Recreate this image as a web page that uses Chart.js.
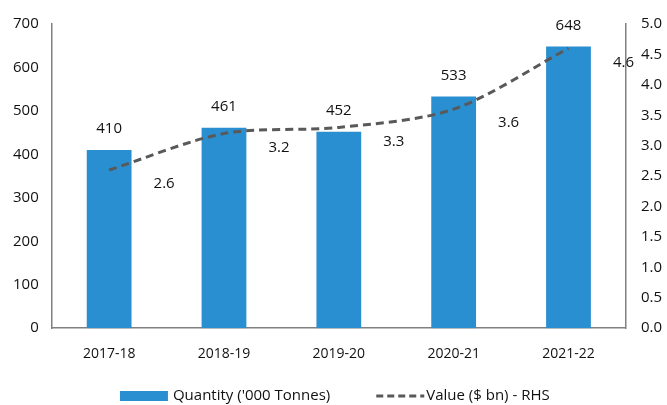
<!DOCTYPE html>
<html>
<head>
<meta charset="utf-8">
<script src="https://cdn.jsdelivr.net/npm/chart.js@4"></script>
<style>
  html, body { margin: 0; padding: 0; background: #fff; }
  #wrap { width: 667px; height: 405px; }
</style>
</head>
<body>
<div id="wrap"><canvas id="c" width="667" height="405"></canvas></div>
<script>
const years = ['2017-18', '2018-19', '2019-20', '2020-21', '2021-22'];
const quantity = [410, 461, 452, 533, 648];
const value = [2.6, 3.2, 3.3, 3.6, 4.6];

const FONT = "'Open Sans', Lato, sans-serif";
const BLUE = '#2a8fd0';
const GREY = '#595959';

// value labels next to bars and line points
const valueLabels = {
    id: 'valueLabels',
    afterDatasetsDraw(chart) {
        const ctx = chart.ctx;
        ctx.save();
        ctx.font = '15px ' + FONT;
        ctx.fillStyle = '#111';
        ctx.textAlign = 'center';
        ctx.textBaseline = 'middle';
        chart.getDatasetMeta(0).data.forEach((el, i) => {
            ctx.fillText(String(quantity[i]), el.x, el.y - 21);
        });
        chart.getDatasetMeta(1).data.forEach((el, i) => {
            ctx.fillText(value[i].toFixed(1), el.x + 55, el.y + 14);
        });
        ctx.restore();
    }
};

// legend at the bottom, drawn by hand so the gap between items is wide
const bottomLegend = {
    id: 'bottomLegend',
    afterDraw(chart) {
        const ctx = chart.ctx;
        const ds = chart.data.datasets;
        const y = 396, mark = 48, gap = 5, between = 46;
        ctx.save();
        ctx.font = '15px ' + FONT;
        const w0 = ctx.measureText(ds[0].label).width;
        const w1 = ctx.measureText(ds[1].label).width;
        const total = mark + gap + w0 + between + mark + 2 + w1;
        const cx = (chart.chartArea.left + chart.chartArea.right) / 2 - 4;
        let x = cx - total / 2;
        ctx.fillStyle = BLUE;
        ctx.fillRect(x, y - 5, mark, 10);
        x += mark + gap;
        ctx.fillStyle = '#111';
        ctx.textBaseline = 'middle';
        ctx.fillText(ds[0].label, x, y);
        x += w0 + between;
        ctx.strokeStyle = GREY;
        ctx.lineWidth = 3;
        ctx.setLineDash([7, 4]);
        ctx.beginPath(); ctx.moveTo(x, y); ctx.lineTo(x + mark, y); ctx.stroke();
        ctx.setLineDash([]);
        x += mark + 2;
        ctx.fillText(ds[1].label, x, y);
        ctx.restore();
    }
};

new Chart(document.getElementById('c'), {
    data: {
        labels: years,
        datasets: [
            {
                type: 'bar', label: "Quantity ('000 Tonnes)", data: quantity,
                backgroundColor: BLUE, borderColor: BLUE, borderWidth: 0,
                barPercentage: 0.39, categoryPercentage: 1, yAxisID: 'y', order: 2
            },
            {
                type: 'line', label: 'Value ($ bn) - RHS', data: value,
                borderColor: GREY, backgroundColor: GREY, borderWidth: 3, borderDash: [8, 5],
                pointRadius: 0, tension: 0.3, yAxisID: 'y1', order: 1
            }
        ]
    },
    options: {
        responsive: false,
        animation: false,
        layout: { padding: { top: 14, left: 0, right: -10, bottom: 26 } },
        plugins: {
            tooltip: { enabled: false },
            legend: { display: false }
        },
        scales: {
            x: {
                grid: { display: false, drawTicks: false },
                border: { color: '#808080', width: 1.5 },
                ticks: { color: '#111', font: { family: FONT, size: 14 }, padding: 17 }
            },
            y: {
                position: 'left', min: 0, max: 700,
                grid: { display: false, drawTicks: false },
                border: { color: '#808080', width: 1.5 },
                ticks: { stepSize: 100, color: '#111', font: { family: FONT, size: 15 }, padding: 13 }
            },
            y1: {
                position: 'right', min: 0, max: 5,
                grid: { display: false, drawTicks: false },
                border: { color: '#808080', width: 1.5 },
                ticks: { stepSize: 0.5, color: '#111', font: { family: FONT, size: 15 }, padding: 15,
                    callback: v => Number(v).toFixed(1) }
            }
        }
    },
    plugins: [valueLabels, bottomLegend]
});
</script>
</body>
</html>
